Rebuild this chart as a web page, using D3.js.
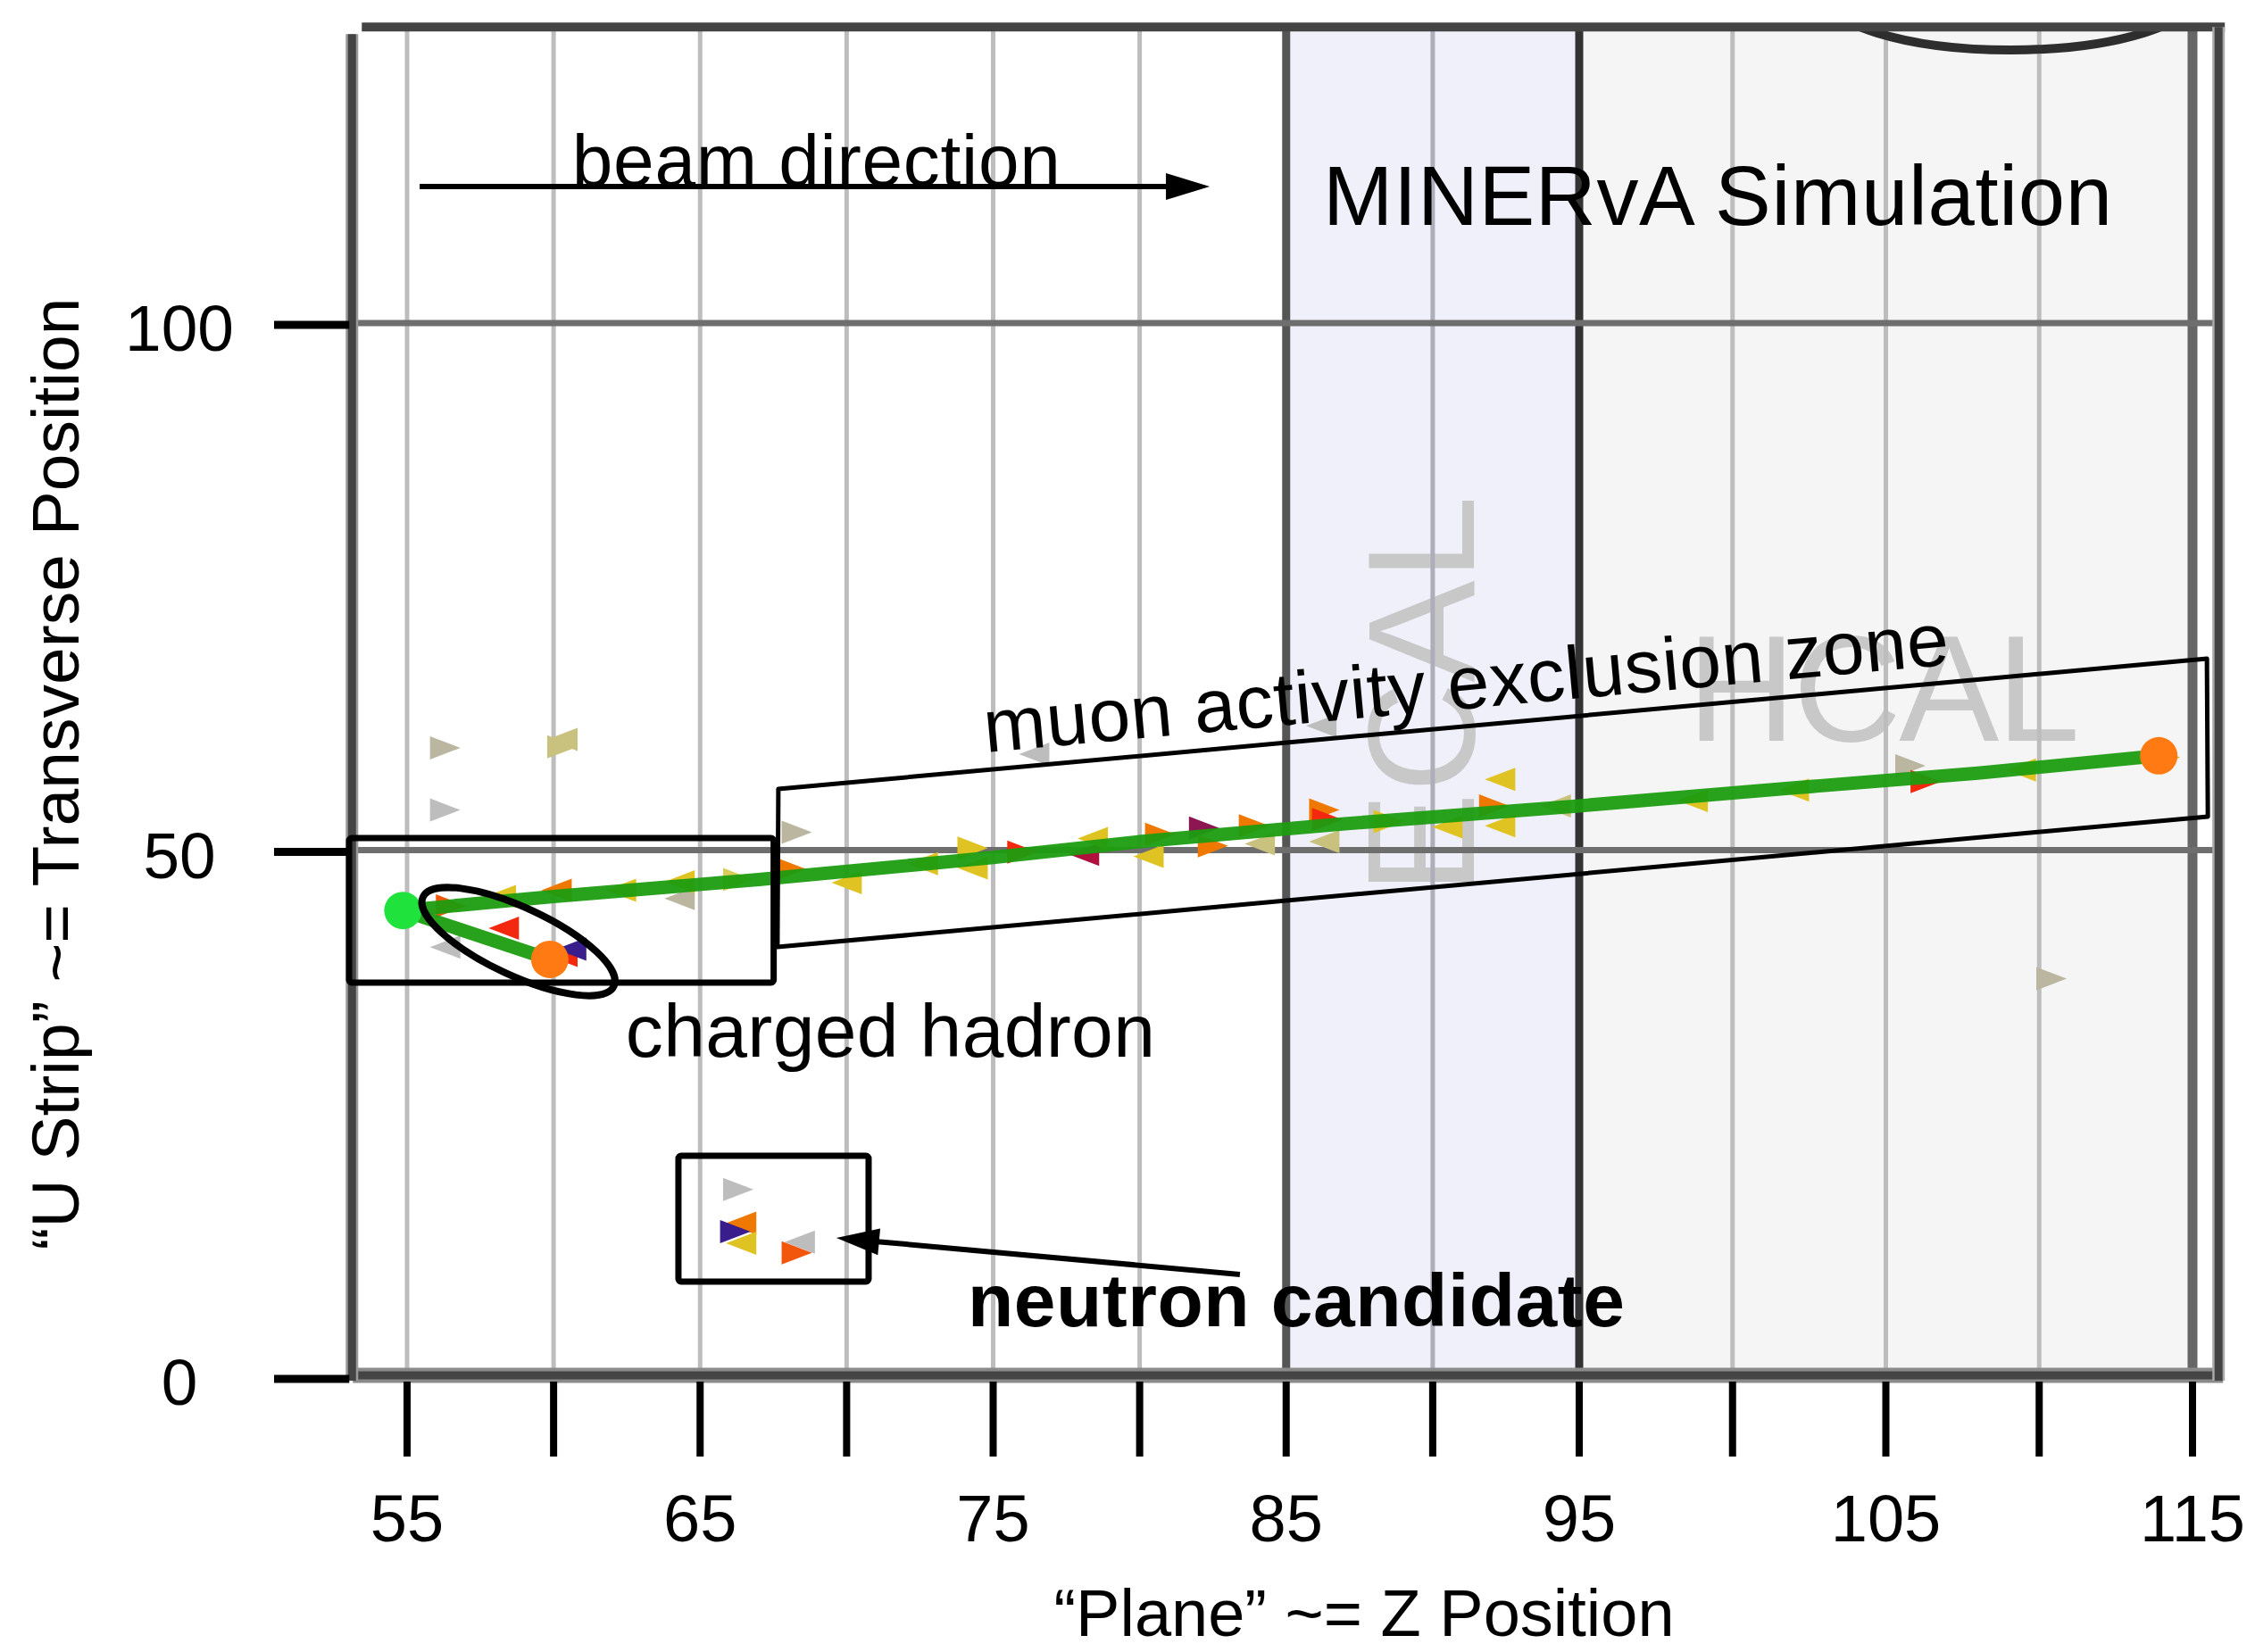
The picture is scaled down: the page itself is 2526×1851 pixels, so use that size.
<!DOCTYPE html>
<html>
<head>
<meta charset="utf-8" />
<script src="https://d3js.org/d3.v7.min.js"></script>
<style>
  html, body { margin: 0; padding: 0; background: #fff; }
  svg { display: block; }
  text { font-family: "Liberation Sans", Arial, sans-serif; }
</style>
<title>MINERvA event display</title>
</head>
<body>
<div id="my_dataviz"></div>
<script>
// axis ticks
var planeTicks = d3.range(55, 116, 5);
var planeLabels = [55, 65, 75, 85, 95, 105, 115];
var stripTicks = [0, 50, 100];

// detector regions, in planes
var ecalPlanes = [85, 95];
var hcalPlanes = [95, 115];

// reconstructed tracks, [plane, strip]
var muonTrack = [[54.86, 44.27], [60, 45.6], [67, 47.2], [75, 49.3], [80, 50.8], [87, 52.5], [95, 54.2], [102, 55.9], [108, 57.3], [113.9, 58.95]];
var hadronTrack = [[54.86, 44.27], [59.87, 39.63]];
var vertex = [54.86, 44.27];
var trackEnds = [[59.87, 39.63], [113.9, 58.95]];

// hits: plane, strip, triangle side, energy class
var hitPlane = [56.3, 56.3, 60.3, 60.3, 68.3, 76.4, 86.2,
                56.5, 58.2, 58.3, 56.3, 60.3, 60.6, 60.1, 62.3, 64.3, 64.3, 66.3, 68.1,
                70.0, 72.6, 74.3, 74.3, 76.0, 78.1, 78.4, 80.3, 80.7, 82.2, 82.5, 83.9, 84.1,
                86.3, 86.4, 86.3, 88.5, 90.5, 92.3, 92.1, 92.3, 94.2,
                98.7, 102.0, 105.8, 106.3, 109.4, 114.1, 110.4,
                66.3, 66.4, 66.4, 66.2, 68.4, 68.3];
var hitStrip = [59.7, 53.8, 60.5, 59.8, 51.7, 59.1, 61.8,
                44.7, 45.6, 42.6, 40.8, 40.0, 40.6, 46.2, 46.2, 45.4, 47.0, 47.2, 48.2,
                46.9, 48.7, 50.2, 48.3, 49.8, 49.6, 51.1, 49.4, 51.5, 52.1, 50.4, 52.3, 50.6,
                53.8, 52.9, 50.8, 52.7, 52.2, 56.7, 54.2, 52.3, 54.2,
                54.7, 55.7, 58.0, 56.5, 57.6, 58.8, 37.8,
                17.8, 14.6, 12.7, 13.8, 12.8, 11.8];
var hitSide = ["r", "r", "l", "r", "r", "l", "l",
               "r", "l", "l", "l", "l", "l", "l", "l", "l", "l", "r", "r",
               "l", "l", "r", "l", "r", "l", "l", "l", "r", "r", "r", "r", "l",
               "r", "r", "l", "r", "l", "l", "r", "l", "l",
               "l", "l", "r", "r", "l", "r", "r",
               "r", "l", "l", "r", "l", "r"];
var hitLevel = ["khakiGray", "gray", "khaki", "khaki", "khakiGray", "gray", "gray",
                "orangeRed", "yellow", "red", "gray", "red", "navy", "orange", "yellow", "khakiGray", "yellow", "yellowKhaki", "orange",
                "yellow", "yellow", "yellow", "yellow", "red", "crimson", "yellow", "yellow", "orange", "maroon", "orange", "orange", "khaki",
                "orange", "red", "khaki", "yellow", "yellow", "yellow", "orange", "yellow", "khaki",
                "yellow", "yellow", "khakiGray", "red", "yellow", "amber", "khakiGray",
                "gray", "orange", "yellow", "navy", "gray", "orangeRed"];

var levelColor = {
  gray: "#bdbdbd", khakiGray: "#bab6a0", khaki: "#c9c27f", yellowKhaki: "#d8cd5a",
  yellow: "#dfc323", amber: "#e3a514", orange: "#ee7800", orangeRed: "#f2560c",
  red: "#f3280e", crimson: "#b0103c", maroon: "#8c1651", navy: "#3a1d8c"
};

// annotations, in plane / strip units
var exclusionZone = [[67.67, 55.8], [115.47, 68.16], [115.5, 53.18], [67.64, 40.81]];
var vertexBox = [[53.02, 51.14], [67.51, 37.43]];
var neutronBox = [[64.26, 21.0], [70.75, 9.06]];
var hadronLoop = [58.8, 41.32];
var beamArrow = [[55.43, 112.95], [82.39, 112.95]];
var neutronArrow = [[83.42, 9.74], [69.65, 13.21]];
var topLoop = [109.06, 131.5];

var labels = [
  {text: "beam direction", at: [60.63, 113.0], size: 82, len: 547},
  {text: "MINERvA Simulation", at: [86.26, 109.3], size: 94, len: 884},
  {text: "charged hadron", at: [62.46, 30.4], size: 84, len: 593},
  {text: "neutron candidate", at: [74.13, 4.83], size: 84, len: 736, bold: true}
];

// plot frame
var planeMin = 53.15, planeMax = 115.85, stripMax = 128.1;

var W = 2526, H = 1851;

var x = d3.scaleLinear().domain([55, 95, 115]).range([456, 1769, 2456]);
var y = d3.scaleLinear().domain([0, 100]).range([1543, 362]);

var svg = d3.select("#my_dataviz")
  .append("svg")
    .attr("width", W)
    .attr("height", H);

svg.append("rect").attr("width", W).attr("height", H).attr("fill", "#fff");

var plotLeft = x(planeMin), plotRight = x(planeMax), plotTop = y(stripMax), plotBottom = y(0);

svg.append("defs").append("clipPath").attr("id", "plotclip")
  .append("rect")
    .attr("x", plotLeft).attr("y", plotTop)
    .attr("width", plotRight - plotLeft).attr("height", plotBottom - plotTop);

// detector regions
svg.append("rect")
  .attr("x", x(ecalPlanes[0])).attr("y", plotTop)
  .attr("width", x(ecalPlanes[1]) - x(ecalPlanes[0])).attr("height", plotBottom - plotTop)
  .attr("fill", "#f0f0fb");
svg.append("rect")
  .attr("x", x(hcalPlanes[0])).attr("y", plotTop)
  .attr("width", x(hcalPlanes[1]) - x(hcalPlanes[0])).attr("height", plotBottom - plotTop)
  .attr("fill", "#f5f5f5");

// region names
svg.append("text")
  .attr("transform", "translate(" + x(91.4) + "," + y(45.8) + ") rotate(-90)")
  .attr("font-size", 171)
  .attr("fill", "#c8c8c8")
  .text("ECAL");
svg.append("text")
  .attr("x", x(98.52)).attr("y", y(60.4))
  .attr("font-size", 168)
  .attr("textLength", 440)
  .attr("fill", "#c8c8c8")
  .text("HCAL");

// vertical grid lines
function gridStyle(v) {
  if (v == 85) return ["#555", 9];
  if (v == 95) return ["#333", 9];
  if (v == 115) return ["#666", 11];
  if (v == 90) return ["#aeaeba", 5];
  return ["#bdbdbd", 5];
}
svg.append("g").selectAll("line")
  .data(planeTicks)
  .enter().append("line")
    .attr("x1", function(d) { return x(d); })
    .attr("x2", function(d) { return x(d); })
    .attr("y1", plotTop).attr("y2", plotBottom)
    .attr("stroke", function(d) { return gridStyle(d)[0]; })
    .attr("stroke-width", function(d) { return gridStyle(d)[1]; });

// horizontal grid lines
svg.append("g").selectAll("line")
  .data(stripTicks.filter(function(d) { return d > 0; }))
  .enter().append("line")
    .attr("x1", plotLeft).attr("x2", plotRight)
    .attr("y1", function(d) { return y(d); })
    .attr("y2", function(d) { return y(d); })
    .attr("stroke", "#6e6e6e")
    .attr("stroke-width", 7);

// loop at the top edge
svg.append("ellipse")
  .attr("clip-path", "url(#plotclip)")
  .attr("cx", x(topLoop[0])).attr("cy", y(topLoop[1]))
  .attr("rx", 212).attr("ry", 66)
  .attr("fill", "none")
  .attr("stroke", "#2e2e2e")
  .attr("stroke-width", 10);

// frame
svg.append("line").attr("x1", plotLeft).attr("x2", plotRight + 5).attr("y1", plotBottom - 2).attr("y2", plotBottom - 2)
  .attr("stroke", "#8a8a8a").attr("stroke-width", 17);
svg.append("line").attr("x1", plotLeft).attr("x2", plotRight + 5).attr("y1", plotBottom - 2).attr("y2", plotBottom - 2)
  .attr("stroke", "#444").attr("stroke-width", 9);
svg.append("line").attr("x1", plotLeft - 1).attr("x2", plotLeft - 1).attr("y1", plotTop + 8).attr("y2", plotBottom + 4)
  .attr("stroke", "#999").attr("stroke-width", 14);
svg.append("line").attr("x1", plotLeft - 1).attr("x2", plotLeft - 1).attr("y1", plotTop + 8).attr("y2", plotBottom + 4)
  .attr("stroke", "#444").attr("stroke-width", 9);
svg.append("line").attr("x1", plotLeft + 10).attr("x2", plotRight + 7).attr("y1", plotTop).attr("y2", plotTop)
  .attr("stroke", "#444").attr("stroke-width", 10);
svg.append("line").attr("x1", plotRight).attr("x2", plotRight).attr("y1", plotTop).attr("y2", plotBottom + 4)
  .attr("stroke", "#aaa").attr("stroke-width", 14);
svg.append("line").attr("x1", plotRight).attr("x2", plotRight).attr("y1", plotTop).attr("y2", plotBottom + 4)
  .attr("stroke", "#444").attr("stroke-width", 9);

// ticks
svg.append("g").selectAll("line")
  .data(planeTicks)
  .enter().append("line")
    .attr("x1", function(d) { return x(d); })
    .attr("x2", function(d) { return x(d); })
    .attr("y1", plotBottom + 5).attr("y2", plotBottom + 89)
    .attr("stroke", "#000")
    .attr("stroke-width", 8);
svg.append("g").selectAll("line")
  .data(stripTicks)
  .enter().append("line")
    .attr("x1", 307).attr("x2", plotLeft - 4)
    .attr("y1", function(d) { return y(d) + 2; })
    .attr("y2", function(d) { return y(d) + 2; })
    .attr("stroke", "#000")
    .attr("stroke-width", 9);

// tick labels
svg.append("g").selectAll("text")
  .data(planeLabels)
  .enter().append("text")
    .attr("x", function(d) { return x(d); })
    .attr("y", plotBottom + 184)
    .attr("text-anchor", "middle")
    .attr("font-size", 74)
    .text(function(d) { return d; });
svg.append("g").selectAll("text")
  .data(stripTicks)
  .enter().append("text")
    .attr("x", 201)
    .attr("y", function(d) { return y(d) + 31; })
    .attr("text-anchor", "middle")
    .attr("font-size", 73)
    .text(function(d) { return d; });

// axis titles
svg.append("text")
  .attr("x", 1528).attr("y", 1833)
  .attr("text-anchor", "middle")
  .attr("font-size", 74)
  .text("\u201cPlane\u201d ~= Z Position");
svg.append("text")
  .attr("transform", "translate(88,867) rotate(-90)")
  .attr("text-anchor", "middle")
  .attr("font-size", 75)
  .text("\u201cU Strip\u201d ~= Transverse Position");

// hits
var tw = 34, th = 26;
var hits = hitPlane.map(function(p, i) {
  return {plane: p, strip: hitStrip[i], side: hitSide[i], level: hitLevel[i]};
});
svg.append("g").selectAll("path")
  .data(hits)
  .enter().append("path")
    .attr("d", function(d) {
      var cx = x(d.plane), cy = y(d.strip), s = d.side == "r" ? 1 : -1;
      return "M" + (cx - s * tw / 2) + "," + (cy - th / 2) +
             "L" + (cx + s * tw / 2) + "," + cy +
             "L" + (cx - s * tw / 2) + "," + (cy + th / 2) + "Z";
    })
    .attr("fill", function(d) { return levelColor[d.level]; });

// exclusion zone text
var ang = Math.atan2(y(exclusionZone[1][1]) - y(exclusionZone[0][1]),
                     x(exclusionZone[1][0]) - x(exclusionZone[0][0])) * 180 / Math.PI;
svg.append("text")
  .attr("transform", "translate(" + x(74.75) + "," + y(59.27) + ") rotate(" + ang + ")")
  .attr("font-size", 84)
  .attr("textLength", 1085)
  .text("muon activity exclusion zone");

// tracks
var line = d3.line()
  .x(function(d) { return x(d[0]); })
  .y(function(d) { return y(d[1]); });
svg.append("g").selectAll("path")
  .data([muonTrack, hadronTrack])
  .enter().append("path")
    .attr("d", line)
    .attr("fill", "none")
    .attr("stroke", "#1c9c10")
    .attr("stroke-opacity", 0.95)
    .attr("stroke-width", 15)
    .attr("stroke-linejoin", "round");

svg.append("circle")
  .attr("cx", x(vertex[0])).attr("cy", y(vertex[1])).attr("r", 21)
  .attr("fill", "#1fe23c");
svg.append("g").selectAll("circle")
  .data(trackEnds)
  .enter().append("circle")
    .attr("cx", function(d) { return x(d[0]); })
    .attr("cy", function(d) { return y(d[1]); })
    .attr("r", 21)
    .attr("fill", "#ff7a12");

// annotation shapes
svg.append("path")
  .attr("d", line(exclusionZone) + "Z")
  .attr("fill", "none")
  .attr("stroke", "#000")
  .attr("stroke-width", 5)
  .attr("stroke-linejoin", "round");

[vertexBox, neutronBox].forEach(function(b) {
  svg.append("rect")
    .attr("x", x(b[0][0])).attr("y", y(b[0][1]))
    .attr("width", x(b[1][0]) - x(b[0][0]))
    .attr("height", y(b[1][1]) - y(b[0][1]))
    .attr("rx", 3)
    .attr("fill", "none")
    .attr("stroke", "#000")
    .attr("stroke-width", 7);
});

svg.append("ellipse")
  .attr("transform", "translate(" + x(hadronLoop[0]) + "," + y(hadronLoop[1]) + ") rotate(25)")
  .attr("rx", 118).attr("ry", 38)
  .attr("fill", "none")
  .attr("stroke", "#000")
  .attr("stroke-width", 8);

// arrows
function arrow(a, head, half) {
  var x1 = x(a[0][0]), y1 = y(a[0][1]), x2 = x(a[1][0]), y2 = y(a[1][1]);
  var dx = x2 - x1, dy = y2 - y1, L = Math.sqrt(dx * dx + dy * dy);
  var ux = dx / L, uy = dy / L;
  var bx = x2 - ux * head, by = y2 - uy * head;
  svg.append("line")
    .attr("x1", x1).attr("y1", y1).attr("x2", bx + ux * 2).attr("y2", by + uy * 2)
    .attr("stroke", "#000").attr("stroke-width", 6);
  svg.append("path")
    .attr("d", "M" + x2 + "," + y2 + "L" + (bx - uy * half) + "," + (by + ux * half) +
               "L" + (bx + uy * half) + "," + (by - ux * half) + "Z")
    .attr("fill", "#000");
}
arrow(beamArrow, 49, 15);
arrow(neutronArrow, 48, 15);

// text labels
svg.append("g").selectAll("text")
  .data(labels)
  .enter().append("text")
    .attr("x", function(d) { return x(d.at[0]); })
    .attr("y", function(d) { return y(d.at[1]); })
    .attr("font-size", function(d) { return d.size; })
    .attr("font-weight", function(d) { return d.bold ? "bold" : "normal"; })
    .attr("textLength", function(d) { return d.len || null; })
    .text(function(d) { return d.text; });
</script>
</body>
</html>
